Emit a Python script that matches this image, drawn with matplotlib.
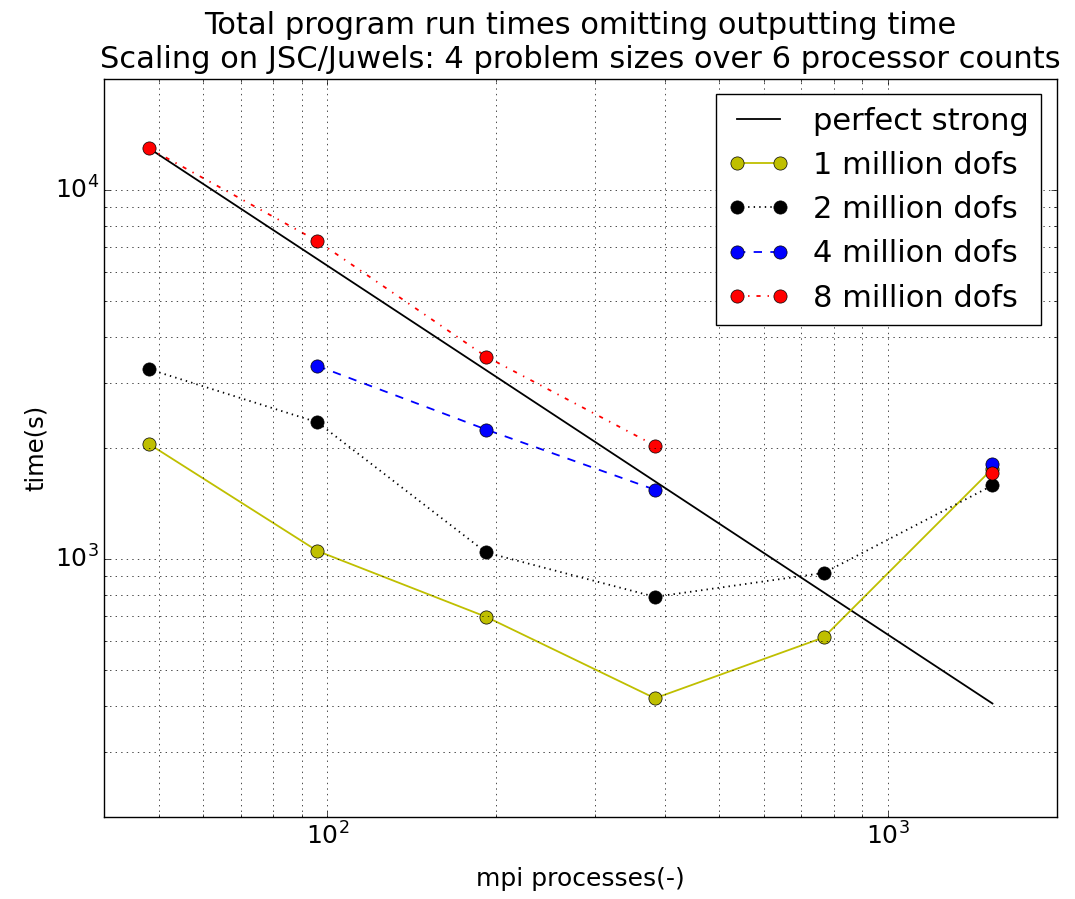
import numpy as np
import matplotlib
matplotlib.use("Agg")
import matplotlib.pyplot as plt
from matplotlib.ticker import NullFormatter

# mpi process counts used in the runs
procs = [48, 96, 192, 384, 768, 1536]

# total run times in seconds (output time excluded), nan = no run
t_1m = [2055, 1053, 698, 420, 614, 1760]
t_2m = [3275, 2350, 1043, 791, 918, 1585]
t_4m = [np.nan, 3341, 2246, 1543, np.nan, 1814]
t_8m = [13010, 7280, 3540, 2033, np.nan, 1710]

labels = ["1 million dofs", "2 million dofs", "4 million dofs", "8 million dofs"]


def main():
    plt.style.use('classic')
    x = np.array(procs, dtype=float)
    # ideal strong scaling taken from the biggest problem on the fewest procs
    perfect = t_8m[0] * x[0] / x

    fig = plt.figure(figsize=(10.75, 8.99), dpi=100, facecolor='white')
    ax = fig.add_subplot(111)
    fig.subplots_adjust(left=0.097, right=0.983, top=0.912, bottom=0.091)

    ax.loglog(x, perfect, 'k-', lw=1.3, label="perfect strong")
    ax.loglog(x, t_1m, 'yo-', lw=1.3, ms=9.5, label=labels[0])
    ax.loglog(x, t_2m, 'ko:', lw=1.3, ms=9.5, label=labels[1])
    ax.loglog(x, t_4m, 'bo--', lw=1.3, ms=9.5, label=labels[2])
    ax.loglog(x, t_8m, 'ro-.', lw=1.3, ms=9.5, label=labels[3])

    ax.set_xlim(40, 2000)
    ax.set_ylim(200, 20000)
    ax.grid(True, which='both')
    ax.xaxis.set_minor_formatter(NullFormatter())
    ax.yaxis.set_minor_formatter(NullFormatter())
    ax.tick_params(labelsize=18)

    ax.set_xlabel("mpi processes(-)", fontsize=18, labelpad=12)
    ax.set_ylabel("time(s)", fontsize=17.5)
    ax.set_title("Total program run times omitting outputting time\n"
                 "Scaling on JSC/Juwels: 4 problem sizes over 6 processor counts",
                 fontsize=22, linespacing=1.25, y=1.005)
    ax.legend(loc='upper right', fontsize=22, numpoints=2)

    plt.savefig("out.png", dpi=100)


if __name__ == '__main__':
    main()
